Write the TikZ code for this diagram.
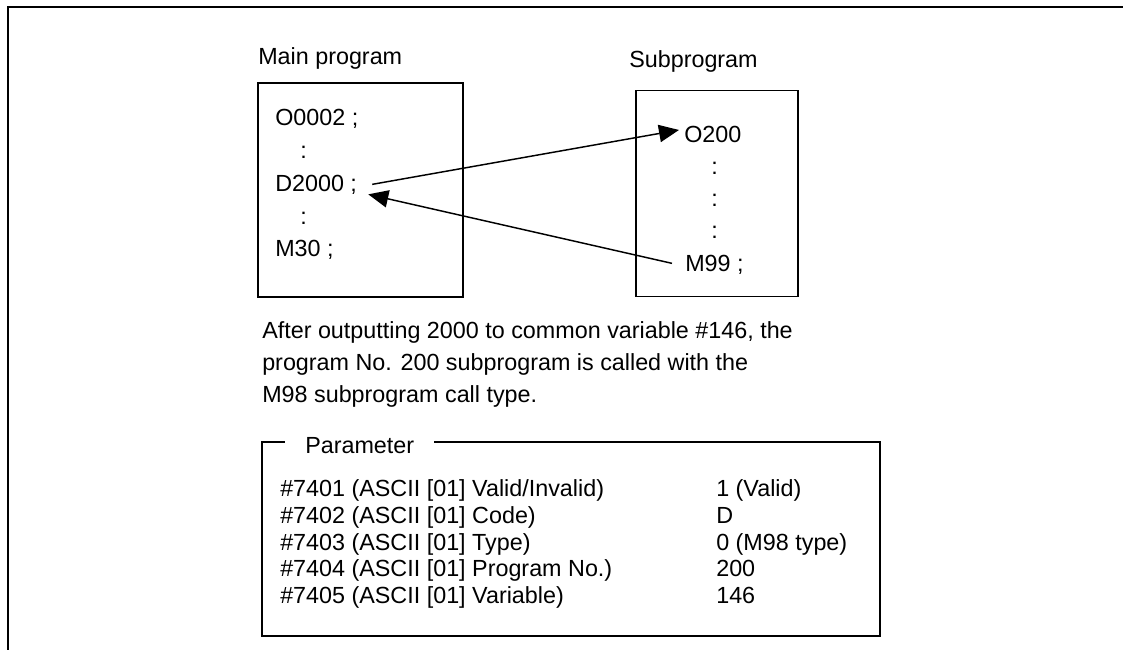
\documentclass[tikz,border=0pt]{standalone}
\usepackage{fontspec}
\setmainfont{Liberation Sans}
\usetikzlibrary{arrows.meta, positioning, calc}

\begin{document}
\begin{tikzpicture}[
  x=0.75pt, y=-0.75pt,
  every node/.style={font=\fontsize{17.5}{20}\selectfont, inner sep=0pt, anchor=base west},
  progbox/.style={rectangle, draw, line width=0.9pt, anchor=center},
  calllink/.style={-{Triangle[length=15pt, width=13pt]}, line width=1.1pt},
]
\useasboundingbox (0,0) rectangle (1123,650);
% outer frame
\draw[line width=2.2pt] (1123,7) -- (8,7) -- (8,650);

% program boxes
\node[progbox, minimum width=153.75pt, minimum height=160.5pt] (mainbox) at (360.5,190) {};
\node[progbox, minimum width=121.5pt, minimum height=154pt] (subbox) at (717,193.5) {};
\node (mainlbl) at (258,64) {Main program};
\node (sublbl) at (629,67) {Subprogram};

\node (m1) at (275,125) {O0002 ;};
\node (m2) at (300,158) {:};
\node (m3) at (275,191) {D2000 ;};
\node (m4) at (300,224) {:};
\node (m5) at (275,256) {M30 ;};

\node (s1) at (684,142) {O200};
\node (s2) at (711,174) {:};
\node (s3) at (711,206) {:};
\node (s4) at (711,238) {:};
\node (s5) at (685,271) {M99 ;};

\draw[calllink] ($(m3.east)+(15,0)$) -- ($(s1.west)+(-5,-4)$);
\draw[calllink] ($(s5.west)+(-13,-1)$) -- ($(m3.east)+(11,10)$);

% explanation
\node (note1) at (262,338) {After outputting 2000 to common variable \#146, the};
\node (note2) at (262,370) {program No. 200 subprogram is called with the};
\node (note3) at (262,402) {M98 subprogram call type.};

% parameter frame
\node[progbox, minimum width=463.5pt, minimum height=145.5pt] (parbox) at (571,539) {};
\node[fill=white, inner xsep=15pt, inner ysep=3pt] (partitle) at (285,453) {Parameter};

\node (p1) at (280,496) {\#7401 (ASCII [01] Valid/Invalid)};
\node (p2) at (280,523) {\#7402 (ASCII [01] Code)};
\node (p3) at (280,550) {\#7403 (ASCII [01] Type)};
\node (p4) at (280,576) {\#7404 (ASCII [01] Program No.)};
\node (p5) at (280,603) {\#7405 (ASCII [01] Variable)};
\node (v1) at (716,496) {1 (Valid)};
\node (v2) at (716,523) {D};
\node (v3) at (716,550) {0 (M98 type)};
\node (v4) at (716,576) {200};
\node (v5) at (716,603) {146};
\end{tikzpicture}
\end{document}
